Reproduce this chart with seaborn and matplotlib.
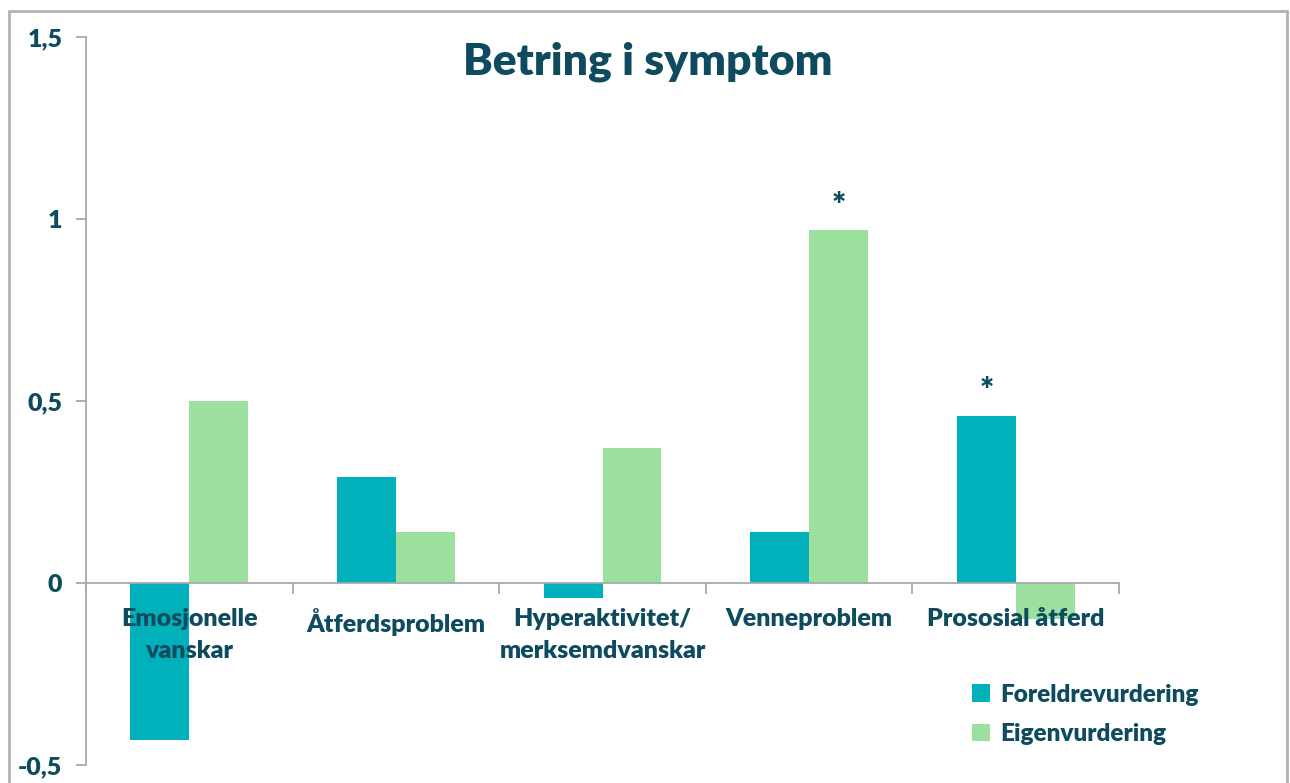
import pandas as pd
import matplotlib
matplotlib.use('Agg')
import matplotlib.pyplot as plt
from matplotlib.ticker import FixedLocator, FuncFormatter
import seaborn as sns

# data
kategoriar = ['Emosjonelle\nvanskar', 'Åtferdsproblem', 'Hyperaktivitet/\nmerksemdvanskar',
              'Venneproblem', 'Prososial åtferd']
foreldre = [-0.43, 0.29, -0.04, 0.14, 0.46]
eigen = [0.50, 0.14, 0.37, 0.97, -0.10]
seriar = ['Foreldrevurdering', 'Eigenvurdering']
# (serie, kategori) med stjerne
signifikant = [(1, 3), (0, 4)]

teal = '#00B0BA'
green = '#9BE09E'
tekst = '#0E4B5E'
grey = '#A6AAAE'

df = pd.DataFrame({
    'kategori': kategoriar * 2,
    'verdi': foreldre + eigen,
    'vurdering': [seriar[0]] * 5 + [seriar[1]] * 5,
})

sns.set_style('white')
plt.rcParams['font.family'] = ['Lato', 'DejaVu Sans']
plt.rcParams['font.weight'] = 'heavy'

fig = plt.figure(figsize=(12.9, 7.83), dpi=100)
ax = fig.add_axes([86 / 1290, 1 - 765 / 783, (1119 - 86) / 1290, (765 - 37) / 783])

sns.barplot(data=df, x='kategori', y='verdi', hue='vurdering', palette=[teal, green],
            width=0.57, saturation=1, linewidth=0, ax=ax, legend=True)

ax.set_xlim(-0.5, 4.5)
ax.set_ylim(-0.5, 1.5)
ax.set_xlabel('')
ax.set_ylabel('')
ax.set_axisbelow(False)

# axis styling, Excel-like
for s in ['top', 'right']:
    ax.spines[s].set_visible(False)
ax.spines['bottom'].set_position(('data', 0))
for s in ['left', 'bottom']:
    ax.spines[s].set_color(grey)
    ax.spines[s].set_linewidth(1.3)

ax.set_yticks([-0.5, 0, 0.5, 1, 1.5])
ax.yaxis.set_major_formatter(FuncFormatter(lambda v, p: format(v, 'g').replace('.', ',')))
ax.tick_params(axis='y', direction='out', length=7, width=1.3, color=grey,
               labelsize=18, labelcolor=tekst, pad=10, left=True)

ax.set_xticks(range(len(kategoriar)))
ax.set_xticklabels(kategoriar)
ax.xaxis.set_minor_locator(FixedLocator([i - 0.5 for i in range(len(kategoriar) + 1)]))
ax.tick_params(axis='x', which='major', length=0, labelsize=18, labelcolor=tekst, pad=18)
ax.tick_params(axis='x', which='minor', direction='out', length=8, width=1.3, color=grey,
               bottom=True)
for lab in ax.get_xticklabels() + ax.get_yticklabels():
    lab.set_fontweight('heavy')
    lab.set_linespacing(1.55)

# stjerner over signifikante søyler
for serie, kat in signifikant:
    bar = ax.containers[serie][kat]
    ax.text(bar.get_x() + bar.get_width() / 2, bar.get_height() + 0.02, '*',
            ha='center', va='bottom', fontsize=24, fontweight='heavy', color=tekst)

fig.text(648 / 1290, 1 - 62 / 783, 'Betring i symptom', ha='center', va='center',
         fontsize=32, fontweight='heavy', color=tekst)

handles, labels = ax.get_legend_handles_labels()
ax.legend(handles, labels, loc='upper left', bbox_to_anchor=(950 / 1290, 1 - 662 / 783),
          bbox_transform=fig.transFigure, frameon=False,
          handlelength=0.75, handleheight=0.75, handletextpad=0.4, labelspacing=0.7,
          labelcolor=tekst, prop={'weight': 'heavy', 'size': 17.5})

# ramme rundt heile figuren
fig.patches.append(plt.Rectangle((9 / 1290, -0.01), (1287 - 9) / 1290, 1.01 - 11 / 783,
                                 transform=fig.transFigure, fill=False,
                                 edgecolor='#B0B3B6', linewidth=2, zorder=0))

fig.savefig('out.png', dpi=100)
